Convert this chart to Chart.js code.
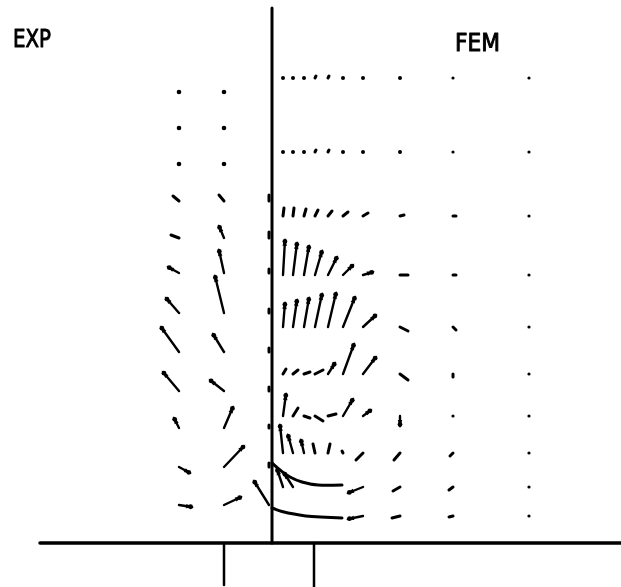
<!DOCTYPE html>
<html>
<head>
<meta charset="utf-8">
<script src="https://cdn.jsdelivr.net/npm/chart.js@4.4.1/dist/chart.umd.min.js"></script>
<style>
  html, body { margin: 0; padding: 0; background: #fff; }
  #wrap { width: 621px; height: 587px; }
</style>
</head>
<body>
<div id="wrap"><canvas id="myChart" width="621" height="587"></canvas></div>
<script>
// units: radial r and axial z (1 unit ~ 10 px), axis of symmetry at r = 0

// FEM half (right)
var femR = [1.1, 2.1, 3.2, 4.3, 5.6, 7.1, 9.1, 12.8, 18.1, 25.7];
var femZ = [46.5, 39.1, 32.7, 26.8, 21.6, 16.9, 12.7, 9.0, 5.6, 2.7];
var femU = [
    [0, 0, 0, 0.1, 0.1, 0, 0, 0, 0, 0],
    [0, 0.1, 0.1, 0.1, 0.1, 0.1, 0.1, 0.1, 0, 0],
    [0.1, 0.1, 0.2, 0.3, 0.4, 0.5, 0.5, 0.4, 0.3, 0],
    [0.2, 0.4, 0.5, 0.7, 0.9, 1.0, 1.0, 0.8, 0.3, 0],
    [0.2, 0.4, 0.5, 0.7, 0.8, 1.2, 1.3, 0.8, 0.3, 0],
    [0.3, 0.5, 0.6, 0.8, 0.7, 1.1, 1.3, 0.8, 0, 0],
    [0.3, 0.5, 0.6, 0.8, 0.8, 1.0, 0.8, 0, 0, 0],
    [-0.3, -0.5, -0.3, -0.2, 0.2, -0.1, -0.7, -0.6, -0.3, 0],
    [-0.6, -0.9, null, null, null, null, -1.5, -0.7, -0.4, 0],
    [null, null, null, null, null, null, -1.5, -0.8, -0.4, 0]
];
var femW = [
    [0, 0, 0, 0.2, 0.2, 0, 0, 0, 0, 0],
    [0, 0.1, 0.1, 0.2, 0.2, 0.1, 0.1, 0.1, 0, 0],
    [0.8, 0.8, 0.7, 0.6, 0.5, 0.4, 0.3, 0.1, 0, 0],
    [3.5, 3.2, 2.9, 2.4, 1.8, 1.0, 0.3, 0, 0, 0],
    [2.4, 2.7, 2.9, 3.3, 3.4, 3.0, 1.2, -0.4, -0.3, 0],
    [0.5, 0.4, 0.2, 0.4, 1.1, 3.0, 1.7, -0.6, -0.3, 0],
    [2.2, 0.8, -0.2, -0.5, 0.2, 1.7, 0.6, -1.0, 0, 0],
    [2.8, 1.8, 1.3, 0.9, 0.9, 0.2, -0.7, -0.7, -0.3, 0],
    [1.8, 1.4, null, null, null, null, -0.6, -0.4, -0.3, 0],
    [null, null, null, null, null, null, -0.3, -0.2, -0.1, 0]
];
// the two streamlines near the bottom of the FEM half
var curve1 = [{x: 0, y: 8.0}, {x: 0.8, y: 7.3}, {x: 1.8, y: 6.6}, {x: 3.0, y: 6.1}, {x: 4.6, y: 5.8}, {x: 7.0, y: 5.8}];
var curve2 = [{x: 0, y: 3.5}, {x: 1.0, y: 3.15}, {x: 2.5, y: 2.85}, {x: 4.0, y: 2.65}, {x: 7.0, y: 2.5}];

// EXP half (left)
var expR = [-9.3, -4.8, -0.3];
var expZ = [45.1, 41.5, 37.9, 34.2, 30.5, 27.0, 23.0, 19.1, 15.2, 11.5, 7.6, 3.8];
var expU = [
    [0, 0, -0.1, -0.6, -0.8, -1.1, -1.3, -1.8, -1.6, -0.5, 1.1, 1.3],
    [0, 0, 0.1, -0.5, -0.5, -0.5, -0.9, -1.1, -1.4, 0.9, 2.0, 1.7],
    [null, null, null, 0, 0, 0, 0, 0, 0, 0, 0, -1.5]
];
var expW = [
    [0, 0, 0, 0.5, 0.3, 0.6, 1.5, 2.5, 1.9, 1.0, -0.6, -0.2],
    [0, 0, 0.1, 0.6, 1.2, 2.3, 3.7, 1.8, 1.1, 2.1, 2.1, 0.8],
    [null, null, null, 0.6, 0.6, 0.4, 0.4, 0.4, 0.4, 0.3, 0.4, 2.4]
];

// frame
var axisLine = [{x: 0, y: 0}, {x: 0, y: 53.5}];
var baseLine = [{x: -23.2, y: 0}, {x: 34.9, y: 0}];
var tickL = [{x: -4.8, y: 0}, {x: -4.8, y: -4.2}];
var tickR = [{x: 4.2, y: 0}, {x: 4.2, y: -4.4}];

var labels = [
    {text: 'EXP', r: -25.9, z: 49.6, w: 38},
    {text: 'FEM', r: 18.3, z: 49.2, w: 45}
];

// nodes as a scatter set so the library places them
var nodes = [];
femZ.forEach(function(z, i) {
    femR.forEach(function(r, j) {
        if (femU[i][j] != null) nodes.push({x: r, y: z, u: femU[i][j], w: femW[i][j]});
    });
});
expR.forEach(function(r, j) {
    expZ.forEach(function(z, i) {
        if (expU[j][i] != null) nodes.push({x: r, y: z, u: expU[j][i], w: expW[j][i]});
    });
});

var arrowPlugin = {
    id: 'arrows',
    afterDatasetsDraw: function(chart) {
        var ctx = chart.ctx;
        var xs = chart.scales.x, ys = chart.scales.y;
        ctx.save();
        ctx.fillStyle = '#000';
        ctx.strokeStyle = '#000';
        ctx.lineCap = 'round';
        nodes.forEach(function(p) {
            var x0 = xs.getPixelForValue(p.x), y0 = ys.getPixelForValue(p.y);
            var x1 = xs.getPixelForValue(p.x + p.u), y1 = ys.getPixelForValue(p.y + p.w);
            var len = Math.hypot(x1 - x0, y1 - y0);
            if (len < 1.5) {
                ctx.beginPath();
                ctx.arc(x0, y0, p.x < 0 ? 2.3 : (p.x > 15 ? 1.6 : 2.0), 0, Math.PI * 2);
                ctx.fill();
                return;
            }
            ctx.lineWidth = len < 10 ? 3 : 2.4;
            ctx.beginPath();
            ctx.moveTo(x0, y0);
            ctx.lineTo(x1, y1);
            ctx.stroke();
            if (len >= 10) {
                var a = Math.atan2(y1 - y0, x1 - x0);
                ctx.beginPath();
                ctx.moveTo(x1 + Math.cos(a) * 2, y1 + Math.sin(a) * 2);
                ctx.lineTo(x1 - Math.cos(a) * 6 + Math.sin(a) * 2.2, y1 - Math.sin(a) * 6 - Math.cos(a) * 2.2);
                ctx.lineTo(x1 - Math.cos(a) * 6 - Math.sin(a) * 2.2, y1 - Math.sin(a) * 6 + Math.cos(a) * 2.2);
                ctx.closePath();
                ctx.fill();
                ctx.beginPath();
                ctx.arc(x1 - Math.cos(a) * 1.5, y1 - Math.sin(a) * 1.5, 2.4, 0, Math.PI * 2);
                ctx.fill();
            }
        });
        // panel labels
        ctx.font = '25px "DejaVu Sans"';
        ctx.textBaseline = 'alphabetic';
        ctx.lineWidth = 1;
        ctx.lineJoin = 'round';
        labels.forEach(function(l) {
            var px = xs.getPixelForValue(l.r), py = ys.getPixelForValue(l.z);
            var sx = l.w / ctx.measureText(l.text).width;
            ctx.save();
            ctx.translate(px, py);
            ctx.scale(sx, 1);
            ctx.fillText(l.text, 0, 0);
            ctx.strokeText(l.text, 0, 0);
            ctx.restore();
        });
        ctx.restore();
    }
};

function lineSet(data, width, tension) {
    return {
        type: 'line', data: data, borderColor: '#000', borderWidth: width,
        pointRadius: 0, tension: tension || 0, fill: false, borderCapStyle: 'round'
    };
}

var ctx = document.getElementById('myChart').getContext('2d');
var chart = new Chart(ctx, {
    type: 'scatter',
    data: {
        datasets: [
            {data: nodes, pointRadius: 0, showLine: false},
            lineSet(axisLine, 3),
            lineSet(baseLine, 3.5),
            lineSet(tickL, 2.5),
            lineSet(tickR, 2.5),
            lineSet(curve1, 3, 0.4),
            lineSet(curve2, 3, 0.4)
        ]
    },
    options: {
        responsive: false,
        animation: false,
        layout: {padding: 0},
        plugins: {legend: {display: false}, tooltip: {enabled: false}},
        scales: {
            x: {type: 'linear', min: -27.2, max: 34.9, display: false},
            y: {type: 'linear', min: -4.4, max: 54.3, display: false}
        }
    },
    plugins: [arrowPlugin]
});
</script>
</body>
</html>
